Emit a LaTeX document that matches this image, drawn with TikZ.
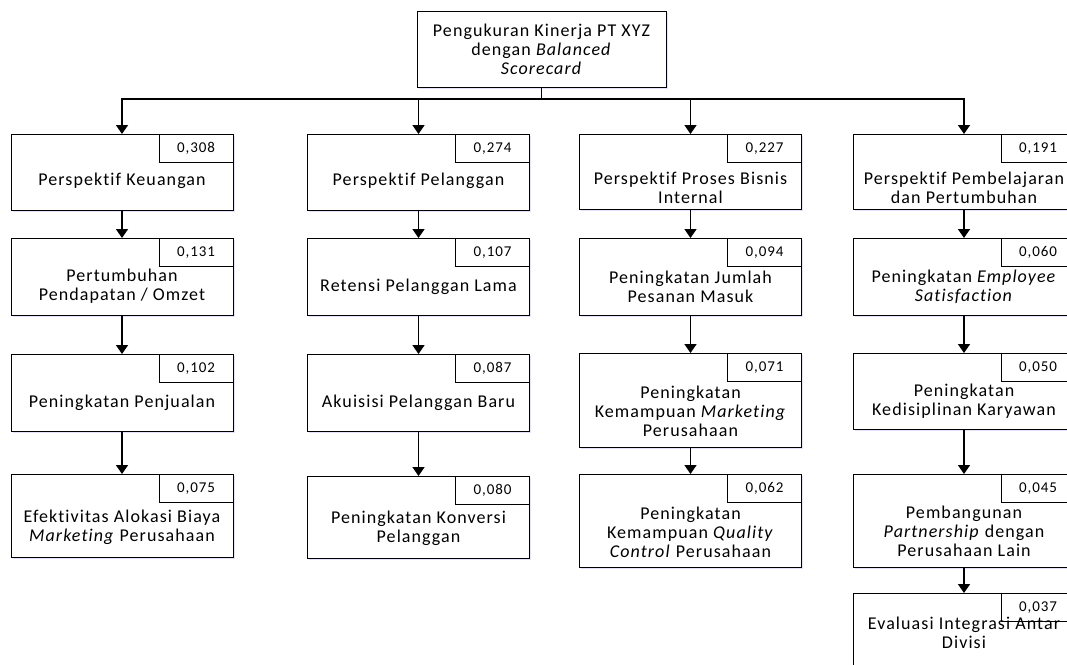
\documentclass[tikz,border=0pt]{standalone}
\usepackage{fontspec}
\setmainfont{Carlito}[LetterSpace=6, Ligatures=NoCommon]
\usetikzlibrary{arrows.meta,shadows}

\begin{document}
\begin{tikzpicture}[x=1pt,y=-1pt,
  box/.style={draw, line width=1pt, fill=white, minimum width=222, anchor=north,
    drop shadow={shadow xshift=1.5pt, shadow yshift=-1.5pt, fill=blue!25, opacity=0.45}},
  badge/.style={draw, line width=1pt, fill=white, minimum width=74, minimum height=28,
    anchor=north east, font=\fontsize{15}{16}\selectfont},
  txt/.style={align=center, font=\fontsize{18}{19}\selectfont},
  arr/.style={line width=1.6pt, -{Triangle[width=12pt,length=9pt]}}]
  \useasboundingbox (0,0) rectangle (1067,664);

  % Goal
  \node[box, minimum width=249, minimum height=76, txt] (top) at (541.5,11)
    {Pengukuran Kinerja PT XYZ\\dengan \textit{Balanced}\\\textit{Scorecard}};
  \coordinate (bus) at (541.5,99);

  % Keuangan
  \node[box, minimum height=76] (k1a) at (122,134) {};
  \node[badge] (w1a) at (k1a.north east) {0,308};
  \node[txt] (t1a) at (122,181) {Perspektif Keuangan};
  \node[box, minimum height=77] (k1b) at (122,238) {};
  \node[badge] (w1b) at (k1b.north east) {0,131};
  \node[txt] (t1b) at (122,286.5) {Pertumbuhan\\Pendapatan / Omzet};
  \node[box, minimum height=77] (k1c) at (122,354) {};
  \node[badge] (w1c) at (k1c.north east) {0,102};
  \node[txt] (t1c) at (122,403) {Peningkatan Penjualan};
  \node[box, minimum height=83] (k1d) at (122,474) {};
  \node[badge] (w1d) at (k1d.north east) {0,075};
  \node[txt] (t1d) at (122,527) {Efektivitas Alokasi Biaya\\\textit{Marketing} Perusahaan};

  % Pelanggan
  \node[box, minimum height=76] (k2a) at (418.5,134) {};
  \node[badge] (w2a) at (k2a.north east) {0,274};
  \node[txt] (t2a) at (418.5,181) {Perspektif Pelanggan};
  \node[box, minimum height=77] (k2b) at (418.5,238) {};
  \node[badge] (w2b) at (k2b.north east) {0,107};
  \node[txt] (t2b) at (418.5,287) {Retensi Pelanggan Lama};
  \node[box, minimum height=77] (k2c) at (418.5,354) {};
  \node[badge] (w2c) at (k2c.north east) {0,087};
  \node[txt] (t2c) at (418.5,403) {Akuisisi Pelanggan Baru};
  \node[box, minimum height=82] (k2d) at (418.5,476) {};
  \node[badge] (w2d) at (k2d.north east) {0,080};
  \node[txt] (t2d) at (418.5,528.5) {Peningkatan Konversi\\Pelanggan};

  % Proses bisnis internal
  \node[box, minimum height=75] (k3a) at (690.5,134) {};
  \node[badge] (w3a) at (k3a.north east) {0,227};
  \node[txt] (t3a) at (690.5,187.5) {Perspektif Proses Bisnis\\Internal};
  \node[box, minimum height=77] (k3b) at (690.5,238) {};
  \node[badge] (w3b) at (k3b.north east) {0,094};
  \node[txt] (t3b) at (690.5,286.5) {Peningkatan Jumlah\\Pesanan Masuk};
  \node[box, minimum height=94] (k3c) at (690.5,353) {};
  \node[badge] (w3c) at (k3c.north east) {0,071};
  \node[txt] (t3c) at (690.5,411) {Peningkatan\\Kemampuan \textit{Marketing}\\Perusahaan};
  \node[box, minimum height=93] (k3d) at (690.5,474) {};
  \node[badge] (w3d) at (k3d.north east) {0,062};
  \node[txt] (t3d) at (690.5,532) {Peningkatan\\Kemampuan \textit{Quality}\\\textit{Control} Perusahaan};

  % Pembelajaran dan pertumbuhan
  \node[box, minimum height=75] (k4a) at (964,134) {};
  \node[badge] (w4a) at (k4a.north east) {0,191};
  \node[txt] (t4a) at (964,188) {Perspektif Pembelajaran\\dan Pertumbuhan};
  \node[box, minimum height=77] (k4b) at (964,238) {};
  \node[badge] (w4b) at (k4b.north east) {0,060};
  \node[txt] (t4b) at (964,286.5) {Peningkatan \textit{Employee}\\\textit{Satisfaction}};
  \node[box, minimum height=76] (k4c) at (964,353) {};
  \node[badge] (w4c) at (k4c.north east) {0,050};
  \node[txt] (t4c) at (964,401) {Peningkatan\\Kedisiplinan Karyawan};
  \node[box, minimum height=93] (k4d) at (964,474) {};
  \node[badge] (w4d) at (k4d.north east) {0,045};
  \node[txt] (t4d) at (964,531.5) {Pembangunan\\\textit{Partnership} dengan\\Perusahaan Lain};
  \node[box, minimum height=76] (k4e) at (964,593) {};
  \node[badge] (w4e) at (k4e.north east) {0,037};
  \node[txt] (t4e) at (964,633) {Evaluasi Integrasi Antar\\Divisi};

  % Arrows
  \foreach \k in {k1a,k2a,k3a,k4a}
    \draw[arr] (top.south) -- (bus) -| (\k.north);
  \draw[arr] (k1a) -- (k1b);
  \draw[arr] (k1b) -- (k1c);
  \draw[arr] (k1c) -- (k1d);
  \draw[arr] (k2a) -- (k2b);
  \draw[arr] (k2b) -- (k2c);
  \draw[arr] (k2c) -- (k2d);
  \draw[arr] (k3a) -- (k3b);
  \draw[arr] (k3b) -- (k3c);
  \draw[arr] (k3c) -- (k3d);
  \draw[arr] (k4a) -- (k4b);
  \draw[arr] (k4b) -- (k4c);
  \draw[arr] (k4c) -- (k4d);
  \draw[arr] (k4d) -- (k4e);
\end{tikzpicture}
\end{document}
